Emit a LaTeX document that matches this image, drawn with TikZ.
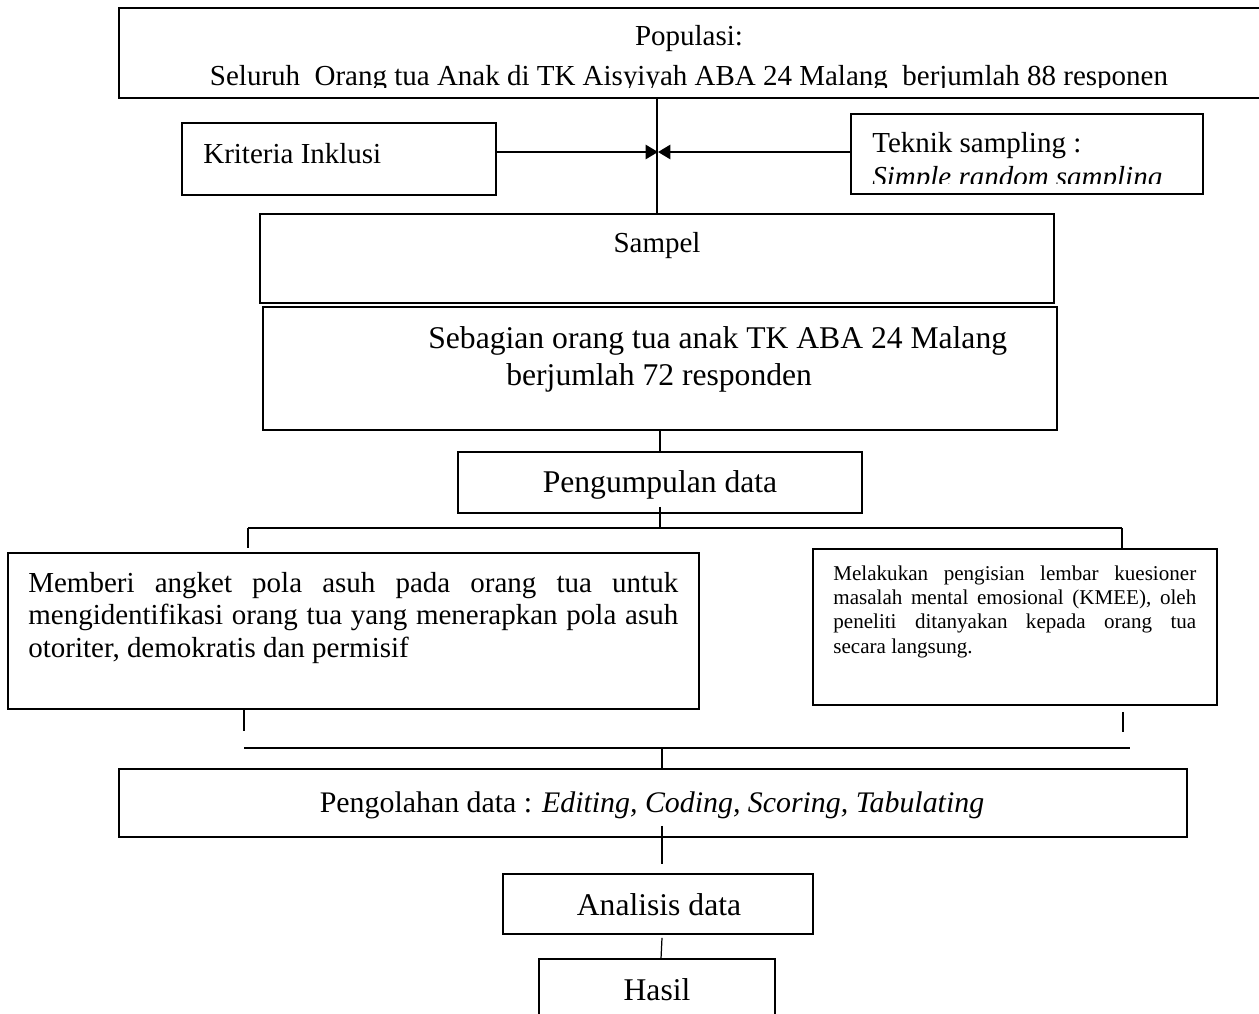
\documentclass[tikz,border=0pt]{standalone}
\usepackage{fontspec}
\setmainfont{Liberation Serif}
\usetikzlibrary{arrows.meta,fit}
\tikzset{
    box/.style={draw,line width=1pt,inner sep=0pt},
    txt/.style={inner sep=0pt,font=\fontsize{16.5}{18.7}\selectfont},
    big/.style={inner sep=0pt,font=\fontsize{18}{21}\selectfont},
    small/.style={inner sep=0pt,font=\fontsize{12}{13.9}\selectfont},
    link/.style={line width=0.7pt},
    stub/.style={line width=1pt},
    arr/.style={line width=1.3pt,-{Triangle[length=7pt,width=8pt]}}
}

\begin{document}
\begin{tikzpicture}[x=0.02cm,y=-0.02cm]
        \useasboundingbox (0,0) rectangle (1259,1014);
        % boxes
        \node [box,fit={(119,8) (1300,98)}] (pop) {};
        \node [box,fit={(182,123) (496,195)}] (krit) {};
        \node [box,fit={(851,114) (1203,194)}] (tek) {};
        \node [box,fit={(260,214) (1054,303)}] (samp) {};
        \node [box,fit={(263,307) (1057,430)}] (seb) {};
        \node [box,fit={(458,452) (862,513)}] (kumpul) {};
        \node [box,fit={(8,553) (699,709)}] (angket) {};
        \node [box,fit={(813,549) (1217,705)}] (kmee) {};
        \node [box,fit={(119,769) (1187,837)}] (olah) {};
        \node [box,fit={(503,874) (813,934)}] (analisis) {};
        \node [box,fit={(539,959) (775,1040)}] (hasil) {};
        % texts
        \begin{scope}
            \clip (119,8) rectangle (1259,87);
            \node [txt,anchor=base] (popA) at (689,46) {Populasi:};
            \node [txt,anchor=base] (popB) at (689,85)
                {Seluruh\ \ Orang tua Anak di TK Aisyiyah ABA 24 Malang\ \ berjumlah 88 responen};
        \end{scope}
        \node [txt,anchor=base west] (kritT) at (203,163) {Kriteria Inklusi};
        \begin{scope}
            \clip (851,114) rectangle (1203,183);
            \node [txt,anchor=base west] (tekA) at (872,152) {Teknik sampling :};
            \node [txt,anchor=base west] (tekB) at (872,186) {\itshape Simple random sampling};
        \end{scope}
        \node [txt,anchor=base] (sampT) at (657,252) {Sampel};
        \node [big,anchor=base west] (sebA) at (428,348) {Sebagian orang tua anak TK ABA 24 Malang};
        \node [big,anchor=base west] (sebB) at (506,385) {berjumlah 72 responden};
        \node [big,anchor=base] (kumpulT) at (660,492) {Pengumpulan data};
        \node [txt,text width=13cm,align=justify,anchor=base west] (angketT) at (28,592)
            {Memberi angket pola asuh pada orang tua untuk\linebreak
             mengidentifikasi orang tua yang menerapkan pola asuh\linebreak
             otoriter, demokratis dan permisif};
        \node [small,text width=7.26cm,align=justify,anchor=base west] (kmeeT) at (833,580)
            {Melakukan pengisian lembar kuesioner\linebreak
             masalah mental emosional (KMEE), oleh\linebreak
             peneliti ditanyakan kepada orang tua\linebreak
             secara langsung.};
        \node [txt,font=\fontsize{17}{20}\selectfont,anchor=base] (olahT) at (652,812)
            {Pengolahan data : \textit{Editing, Coding, Scoring, Tabulating}};
        \node [big,anchor=base] (analisisT) at (659,915) {Analisis data};
        \node [big,anchor=base] (hasilT) at (657,1000) {Hasil};
        % connectors
        \coordinate (jn) at (658,152);
        \coordinate (brL) at (248,528);
        \coordinate (brR) at (1122,528);
        \coordinate (mgL) at (244,748);
        \coordinate (mgR) at (1130,748);
        \coordinate (mid) at (662,748);
        \draw [link] (samp.north |- pop.south) -- (samp.north);
        \draw [arr] (krit.east |- jn) -- (jn);
        \draw [arr] (tek.west |- jn) -- (jn);
        \draw [link] (seb.south) -- (kumpul.north);
        \draw [link] (kumpul.south) ++(0,-7) -- (kumpul.south |- brL);
        \draw [stub] (brL) -- (brR);
        \draw [stub] (brL) -- ++(0,20);
        \draw [stub] (brR) -- (brR |- kmee.north);
        \draw [stub] (angket.south -| mgL) -- ++(0,21);
        \draw [stub] (kmee.south -| 1123,0) ++(0,6) -- ++(0,20);
        \draw [stub] (mgL) -- (mgR);
        \draw [link] (mid) -- (mid |- olah.north);
        \draw [link] (mid |- olah.south) ++(0,-12) -- ++(0,38);
        \draw [link] (mid |- analisis.south) ++(0,3) -- ++(-1,21);
    \end{tikzpicture}
\end{document}
